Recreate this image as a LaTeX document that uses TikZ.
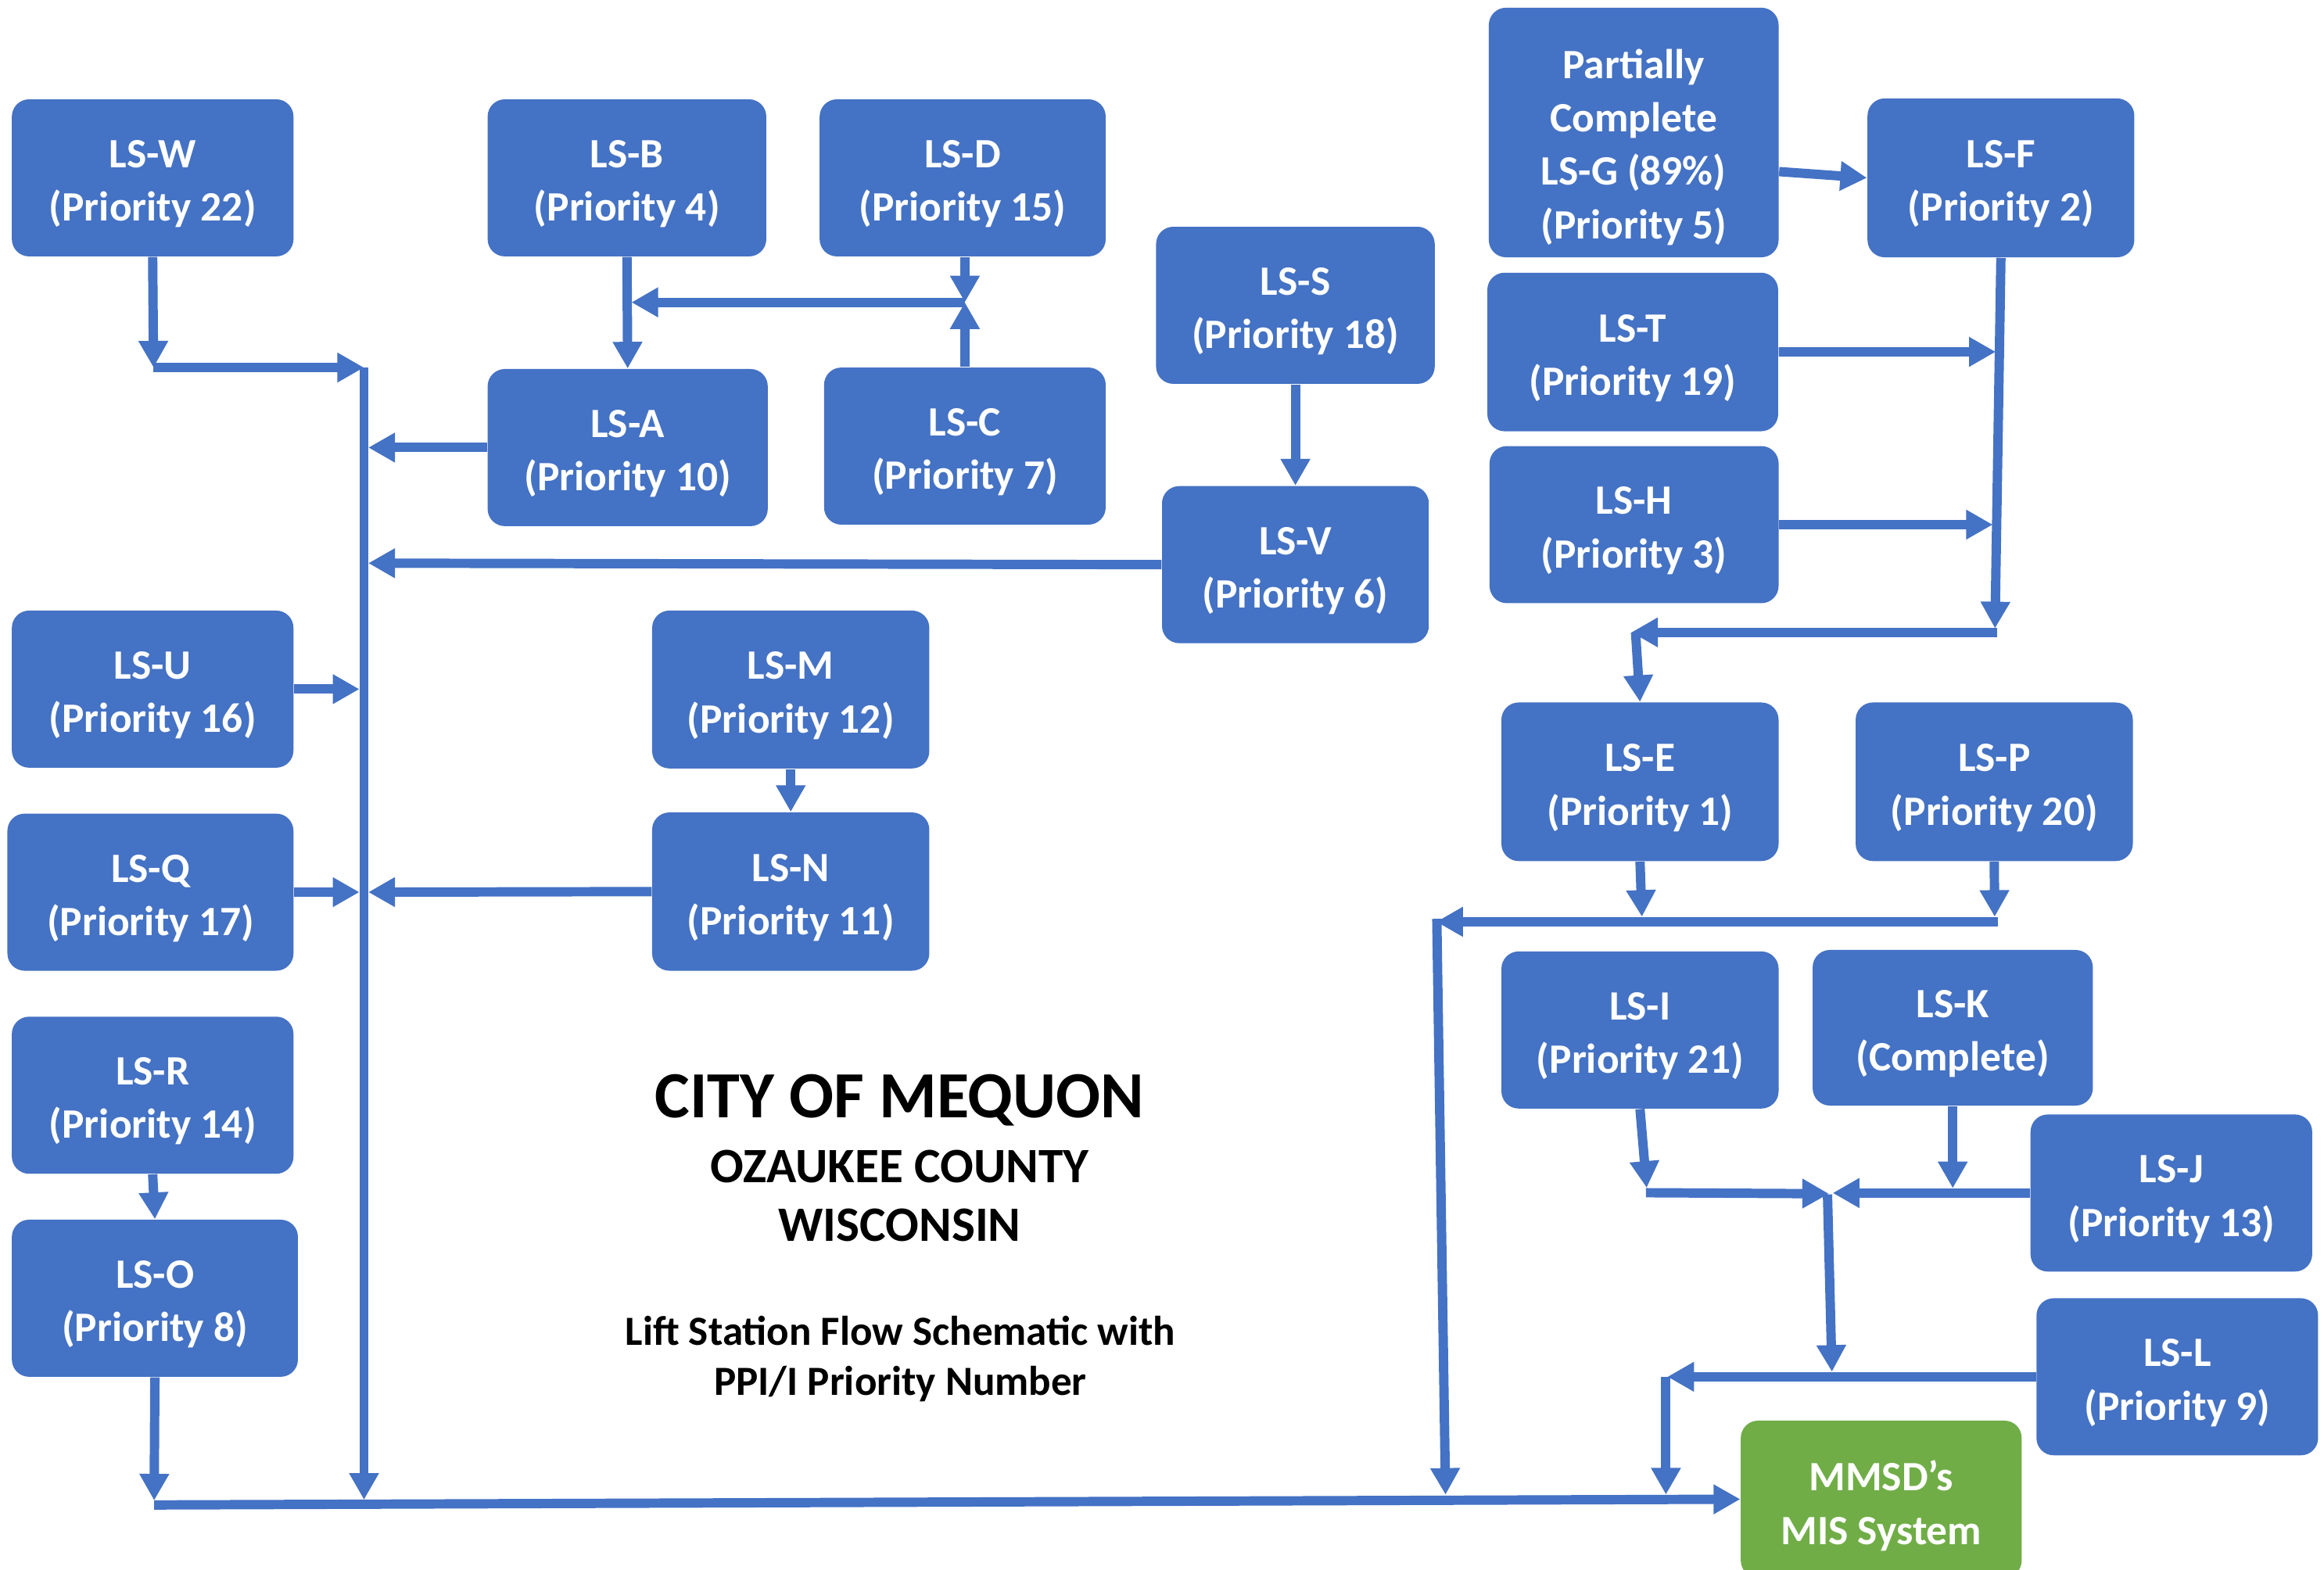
\documentclass[tikz,border=0pt]{standalone}
\usepackage{fontspec}
\setmainfont{Carlito}
\usetikzlibrary{arrows.meta}
\definecolor{boxblue}{HTML}{4472C4}
\definecolor{boxgreen}{HTML}{70AD47}
\newdimen\dpu \dpu=0.0189541cm
\newcommand\bt[2][17.2pt]{\raisebox{0pt}[9.8pt][#1]{\begin{tabular}[t]{@{}c@{}}#2\end{tabular}}}
\tikzset{
  box/.style 2 args={fill=boxblue, draw=none, rounded corners=0.22cm,
    minimum width=#1\dpu, minimum height=#2\dpu, inner sep=0pt,
    text=white, font=\fontsize{15.2}{19.4}\selectfont\bfseries},
  gbox/.style 2 args={box={#1}{#2}, fill=boxgreen},
  ln/.style={draw=boxblue, line width=3.4pt, -{Triangle[width=10.2pt,length=9.7pt]}},
  ttl/.style={anchor=base, inner sep=0pt, text=black},
}
\begin{document}
\begin{tikzpicture}[x=0.0189541cm, y=-0.0189541cm]
\useasboundingbox (0,0) rectangle (1568,1059);
\clip (0,0) rectangle (1568,1059);

% boxes
\node[box={190}{106}] (W) at (103,120) {\bt{LS-W\\(Priority 22)}};
\node[box={188}{106}] (B) at (423,120) {\bt{LS-B\\(Priority 4)}};
\node[box={193}{106}] (D) at (649.5,120) {\bt{LS-D\\(Priority 15)}};
\node[box={188}{106}] (S) at (874,206) {\bt{LS-S\\(Priority 18)}};
\node[box={195.5}{168.4}] (G) at (1102.25,89.4) {\bt[49pt]{Partially\\Complete\\LS-G (89\%)\\(Priority 5)}};
\node[box={180}{107.2}] (F) at (1350,120) {\bt{LS-F\\(Priority 2)}};
\node[box={196.2}{107}] (T) at (1101.6,237.5) {\bt{LS-T\\(Priority 19)}};
\node[box={195}{106}] (H) at (1102.5,354) {\bt{LS-H\\(Priority 3)}};
\node[box={189}{106}] (A) at (423.5,302) {\bt{LS-A\\(Priority 10)}};
\node[box={190}{106}] (C) at (651,301) {\bt{LS-C\\(Priority 7)}};
\node[box={180}{106}] (V) at (874,381) {\bt{LS-V\\(Priority 6)}};
\node[box={190}{106}] (U) at (103,465) {\bt{LS-U\\(Priority 16)}};
\node[box={187}{106.5}] (M) at (533.5,465.25) {\bt{LS-M\\(Priority 12)}};
\node[box={193}{106}] (Q) at (101.5,602) {\bt{LS-Q\\(Priority 17)}};
\node[box={187}{106.8}] (N) at (533.5,601.6) {\bt{LS-N\\(Priority 11)}};
\node[box={190}{106}] (R) at (103,739) {\bt{LS-R\\(Priority 14)}};
\node[box={193}{106}] (O) at (104.5,876) {\bt{LS-O\\(Priority 8)}};
\node[box={187}{107}] (E) at (1106.5,527.5) {\bt{LS-E\\(Priority 1)}};
\node[box={187}{107}] (P) at (1345.5,527.5) {\bt{LS-P\\(Priority 20)}};
\node[box={187}{106}] (I) at (1106.5,695) {\bt{LS-I\\(Priority 21)}};
\node[box={189}{105}] (K) at (1317.5,693.5) {\bt{LS-K\\(Complete)}};
\node[box={190}{106}] (J) at (1465,805) {\bt{LS-J\\(Priority 13)}};
\node[box={190}{106}] (L) at (1469,929) {\bt{LS-L\\(Priority 9)}};
\node[gbox={189.5}{106}] (MM) at (1269.25,1011.6) {\bt[15.8pt]{MMSD’s\\MIS System}};

% title
\node[ttl, font=\fontsize{24}{28}\selectfont\bfseries] (t1) at (607,754.3) {CITY OF MEQUON};
\node[ttl, font=\fontsize{18}{22}\selectfont\bfseries] (t2) at (607,797.7) {OZAUKEE COUNTY};
\node[ttl, font=\fontsize{18}{22}\selectfont\bfseries] (t3) at (607,837.7) {WISCONSIN};
\node[ttl, font=\fontsize{15.1}{18.3}\selectfont\bfseries] (t4) at (607.5,907.5) {Lift Station Flow Schematic with};
\node[ttl, font=\fontsize{15.1}{18.3}\selectfont\bfseries] (t5) at (607.5,941.5) {PPI/I Priority Number};

% junction coordinates
\coordinate (jW) at (103.6,248);
\coordinate (jT) at (245.6,248);
\coordinate (jTb) at (245.6,1012);
\coordinate (tA) at (248.5,302);
\coordinate (tV) at (248.5,380);
\coordinate (tU) at (242.5,465);
\coordinate (tQ) at (242.5,602);
\coordinate (tN) at (248.5,602);
\coordinate (jDC) at (651,204);
\coordinate (tBA) at (426,204);
\coordinate (bL) at (104,1015.5);
\coordinate (tO) at (104,1012.5);
\coordinate (tT) at (1346.5,237.4);
\coordinate (tH) at (1344.5,354);
\coordinate (tF) at (1346,424);
\coordinate (jF) at (1347.5,426.7);
\coordinate (jE) at (1103.5,426.7);
\coordinate (tE1) at (1100.6,426.7);
\coordinate (tEd) at (1107.8,618.6);
\coordinate (tPd) at (1345.8,618.6);
\coordinate (jP) at (1348,622);
\coordinate (tEP) at (969,622);
\coordinate (jEP) at (969.4,620);
\coordinate (tEPb) at (975.3,1008.6);
\coordinate (tI) at (1111,801.5);
\coordinate (jI) at (1110.5,804.8);
\coordinate (tIJ) at (1234,805.5);
\coordinate (tK) at (1317.5,801.8);
\coordinate (tJ) at (1236.5,805);
\coordinate (jIJ) at (1233,806);
\coordinate (tIJb) at (1236,925.6);
\coordinate (tL) at (1125,929);
\coordinate (jL) at (1124,929);
\coordinate (tLb) at (1124,1008.5);

% connectors - left part
\draw[ln] (W.south) -- (jW);
\draw[ln] (jW) -- (jT);
\draw[ln] (jT) -- (jTb);
\draw[ln] (A.west) -- (tA);
\draw[ln] (V.west) -- (tV);
\draw[ln] (U.east) -- (tU);
\draw[ln] (Q.east) -- (tQ);
\draw[ln] (N.west) -- (tN);
\draw[ln] (M.south) -- (N.north);
\draw[ln] (R.south) -- (O.north);
\draw[ln] (O.south) -- (tO);
\draw[ln] (B.south) -- (A.north);
\draw[ln] (D.south -| jDC) -- (jDC);
\draw[ln] (C.north) -- (jDC);
\draw[ln] (jDC) -- (tBA);
\draw[ln] (S.south) -- (V.north);
\draw[ln] (bL) -- (MM.west);

% connectors - right part
\draw[ln] ([yshift=-0.5cm]G.east) -- (F.west);
\draw[ln] (T.east) -- (tT);
\draw[ln] (H.east) -- (tH);
\draw[ln] (F.south) -- (tF);
\draw[ln] (jF) -- (tE1);
\draw[ln] (jE) -- (E.north);
\draw[ln] (E.south) -- (tEd);
\draw[ln] (P.south) -- (tPd);
\draw[ln] (jP) -- (tEP);
\draw[ln] (jEP) -- (tEPb);
\draw[ln] (I.south) -- (tI);
\draw[ln] (jI) -- (tIJ);
\draw[ln] (K.south) -- (tK);
\draw[ln] (J.west) -- (tJ);
\draw[ln] (jIJ) -- (tIJb);
\draw[ln] (L.west) -- (tL);
\draw[ln] (jL) -- (tLb);
\end{tikzpicture}
\end{document}
